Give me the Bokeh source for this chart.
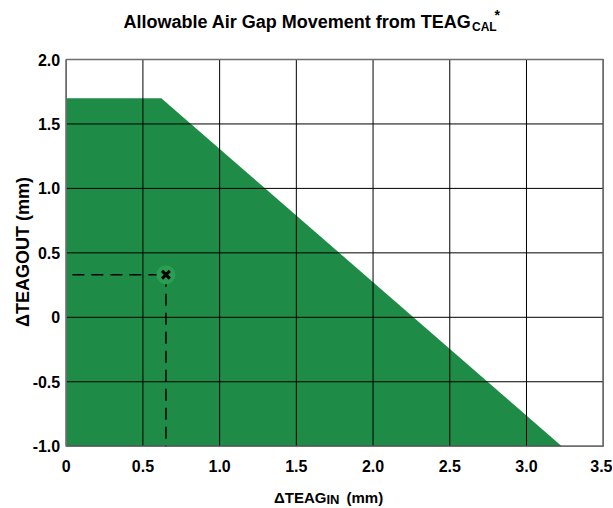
import math
from bokeh.plotting import figure
from bokeh.models import FixedTicker, Label
from bokeh.embed import file_html
from bokeh.resources import INLINE

# ---- data ----
region_x = [0.0, 0.0, 0.62, 3.23]
region_y = [-1.0, 1.7, 1.7, -1.0]
point_x = 0.65
point_y = 0.33
guide_start_x = 0.04
x_ticks = [0, 0.5, 1.0, 1.5, 2.0, 2.5, 3.0, 3.5]
x_tick_labels = ["0", "0.5", "1.0", "1.5", "2.0", "2.5", "3.0", "3.5"]
y_ticks = [-1.0, -0.5, 0, 0.5, 1.0, 1.5, 2.0]
y_tick_labels = ["-1.0", "-0.5", "0", "0.5", "1.0", "1.5", "2.0"]
title_main = "Allowable Air Gap Movement from TEAG"
title_sub = "CAL"
title_sup = "*"
xlabel_main = "\u0394TEAG"
xlabel_sub = "IN"
xlabel_tail = "(mm)"
ylabel = "\u0394TEAGOUT (mm)"

FONT = "Liberation Sans"
GREEN = "#1e8c46"
GREEN_LIGHT = "#2a9e52"

X0, X1 = x_ticks[0], x_ticks[-1]
Y0, Y1 = y_ticks[0], y_ticks[-1]

W, H = 612, 506
# where the data box sits on the canvas (pixels)
FL, FR, FT, FB = 65.7, 602.7, 59.0, 445.7
SX = (FR - FL) / (X1 - X0)
SY = (FB - FT) / (Y1 - Y0)
x_range = (X0 - FL / SX, X1 + (W - FR) / SX)
y_range = (Y0 - (H - FB) / SY, Y1 + FT / SY)

p = figure(width=W, height=H, x_range=x_range, y_range=y_range,
           output_backend="svg", toolbar_location=None,
           min_border=0)
p.title = None
p.outline_line_color = None
p.xgrid.visible = False
p.ygrid.visible = False

def dx(px):
    return X0 + (px - FL) / SX
def dy(py):
    return Y1 - (py - FT) / SY

# green allowable region
p.patch(region_x, region_y, fill_color=GREEN, line_color=None)

# grid lines drawn over the region
p.segment(x0=x_ticks, y0=[Y0] * len(x_ticks), x1=x_ticks, y1=[Y1] * len(x_ticks),
          line_color="black", line_width=1)
p.segment(x0=[X0] * len(y_ticks), y0=y_ticks, x1=[X1] * len(y_ticks), y1=y_ticks,
          line_color="black", line_width=1)
# box outline
p.quad(left=[X0], right=[X1], bottom=[Y0], top=[Y1], fill_color=None,
       line_color="#6e6e6e", line_width=1.5)

# operating point with dashed guides
p.line([guide_start_x, point_x], [point_y, point_y], line_color="black",
       line_width=1.5, line_dash="12 7")
p.line([point_x, point_x], [point_y, Y0], line_color="black",
       line_width=1.5, line_dash="12 7")
p.scatter([point_x], [point_y], marker="circle", size=19,
          fill_color=GREEN_LIGHT, line_color=None)
p.scatter([point_x], [point_y], marker="x", size=11,
          line_color="black", line_width=3)

# axes fixed at the data box edges
p.xaxis.fixed_location = Y0
p.yaxis.fixed_location = X0
p.xaxis.ticker = FixedTicker(ticks=x_ticks)
p.yaxis.ticker = FixedTicker(ticks=y_ticks)
p.xaxis.major_label_overrides = {t: l for t, l in zip(x_ticks, x_tick_labels)}
p.yaxis.major_label_overrides = {t: l for t, l in zip(y_ticks, y_tick_labels)}
for ax in (p.xaxis, p.yaxis):
    ax.axis_line_color = None
    ax.major_tick_line_color = None
    ax.minor_tick_line_color = None
    ax.major_tick_out = 0
    ax.major_tick_in = 0
    ax.major_label_text_font = FONT
    ax.major_label_text_font_style = "bold"
    ax.major_label_text_font_size = "16px"
    ax.major_label_text_color = "black"
p.xaxis.major_label_standoff = 14
p.yaxis.major_label_standoff = 6

def lab(text, px, py, size, align="left", baseline="alphabetic", angle=0.0):
    p.add_layout(Label(x=dx(px), y=dy(py), text=text, text_font=FONT,
                       text_font_style="bold", text_font_size=size,
                       text_align=align, text_baseline=baseline,
                       text_color="black", angle=angle))

# title
lab(title_main, 471, 21.5, "18px", align="right")
lab(title_sub, 471.5, 26.5, "12px", align="left")
lab(title_sup, 494, 6, "14px", align="left", baseline="top")

# x label
lab(xlabel_main, 326, 496.5, "15px", align="right")
lab(xlabel_sub, 326, 498.5, "13px", align="left")
lab(xlabel_tail, 346, 496.5, "15px", align="left")

# y label
lab(ylabel, 22, 251.5, "18px", align="center", baseline="middle", angle=math.pi / 2)

p.background_fill_color = "white"
p.border_fill_color = "white"

open("out.html", "w").write(file_html(p, INLINE))
